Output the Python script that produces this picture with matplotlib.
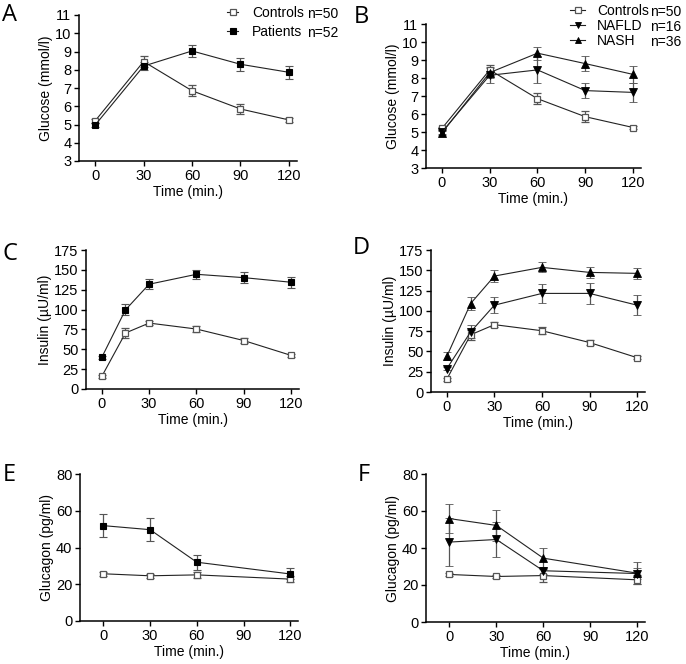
import numpy as np
import matplotlib
matplotlib.use('Agg')
import matplotlib.pyplot as plt
from matplotlib.lines import Line2D

plt.rcParams['font.family'] = ['Liberation Sans', 'DejaVu Sans']

# time points
t_glu = [0, 30, 60, 90, 120]
t_ins = [0, 15, 30, 60, 90, 120]
t_gcg = [0, 30, 60, 120]

# glucose (mmol/l)
glu_ctrl = [5.2, 8.45, 6.85, 5.85, 5.25]
glu_ctrl_err = [0.1, 0.3, 0.3, 0.3, 0.1]
glu_pat = [4.97, 8.2, 9.03, 8.3, 7.86]
glu_pat_err = [0.1, 0.2, 0.35, 0.35, 0.35]
glu_nafld = [5.0, 8.15, 8.45, 7.3, 7.2]
glu_nafld_err = [0.1, 0.4, 0.75, 0.43, 0.55]
glu_nash = [4.95, 8.3, 9.38, 8.8, 8.2]
glu_nash_err = [0.1, 0.3, 0.37, 0.4, 0.45]

# insulin (uU/ml)
ins_ctrl = [15.8, 70.5, 83.0, 75.5, 61.0, 42.3]
ins_ctrl_err = [2, 6, 3, 4, 3, 2]
ins_pat = [39.8, 99.6, 131.9, 144.4, 140.2, 134.4]
ins_pat_err = [2, 7, 6, 6, 7, 7]
ins_nafld = [28.8, 74.1, 107.0, 121.5, 121.5, 107.0]
ins_nafld_err = [2, 8, 10, 11.5, 13, 12]
ins_nash = [44.0, 109.0, 142.9, 153.6, 147.4, 146.2]
ins_nash_err = [5, 8, 7, 6, 7, 7]

# glucagon (pg/ml)
gcg_ctrl = [25.7, 24.6, 25.1, 22.8]
gcg_ctrl_err = [1, 1, 1.5, 1.5]
gcg_ctrl_f_err = [1, 1, 3.5, 2.5]
gcg_pat = [51.9, 49.7, 32.0, 25.6]
gcg_pat_err = [6.2, 6.4, 4, 3]
gcg_nafld = [43.2, 44.6, 27.7, 26.2]
gcg_nafld_err = [13, 9.7, 2, 3]
gcg_nash = [55.9, 52.2, 34.5, 26.4]
gcg_nash_err = [7.7, 8.5, 5.5, 6]

FS = 10
TFS = 10.5
LINE = '#222222'
ERR = '#555555'

styles = {
    'ctrl': dict(marker='s', mfc='white', mec='#555555', ms=5, mew=0.9),
    'pat': dict(marker='s', mfc='black', mec='black', ms=5, mew=0.8),
    'nafld': dict(marker='v', mfc='black', mec='black', ms=5.2, mew=0.6),
    'nash': dict(marker='^', mfc='black', mec='black', ms=5.2, mew=0.6),
}

fig = plt.figure(figsize=(6.86, 6.64), dpi=100)


def add_ax(l, r, b, t):
    return fig.add_axes([l / 686, 1 - b / 664, (r - l) / 686, (b - t) / 664])


def series(ax, x, y, e, kind):
    ax.errorbar(x, y, yerr=e, color=LINE, lw=0.8, ecolor=ERR, elinewidth=0.9,
                capsize=2.8, capthick=0.9, **styles[kind], zorder=3)


def style(ax, ylim, yticks, xlim, ylabel):
    ax.set_xlim(*xlim)
    ax.set_ylim(*ylim)
    ax.set_yticks(yticks)
    ax.set_xticks([0, 30, 60, 90, 120])
    for s in ['top', 'right']:
        ax.spines[s].set_visible(False)
    for s in ['left', 'bottom']:
        ax.spines[s].set_linewidth(1.1)
    ax.tick_params(direction='out', length=3.5, width=1.0, labelsize=TFS, pad=2)
    ax.set_xlabel('Time (min.)', fontsize=FS, labelpad=2)
    ax.set_ylabel(ylabel, fontsize=FS, labelpad=1.5)


def letter(x, y, s):
    fig.text(x / 686, 1 - y / 664, s, fontsize=17, family=['Open Sans', 'DejaVu Sans'],
             va='top', ha='left')


# A
axA = add_ax(79, 297, 161, 15)
series(axA, t_glu, glu_ctrl, glu_ctrl_err, 'ctrl')
series(axA, t_glu, glu_pat, glu_pat_err, 'pat')
style(axA, (3, 11), range(3, 12), (-10, 125), 'Glucose (mmol/l)')

# B
axB = add_ax(426, 641, 168, 24)
series(axB, t_glu, glu_ctrl, glu_ctrl_err, 'ctrl')
series(axB, t_glu, glu_nafld, glu_nafld_err, 'nafld')
series(axB, t_glu, glu_nash, glu_nash_err, 'nash')
style(axB, (3, 11), range(3, 12), (-10, 125), 'Glucose (mmol/l)')

# C
axC = add_ax(86, 299, 389, 250)
series(axC, t_ins, ins_ctrl, ins_ctrl_err, 'ctrl')
series(axC, t_ins, ins_pat, ins_pat_err, 'pat')
style(axC, (0, 175), range(0, 176, 25), (-10, 125), 'Insulin (\u00b5U/ml)')

# D
axD = add_ax(431, 645, 392, 250)
series(axD, t_ins, ins_ctrl, ins_ctrl_err, 'ctrl')
series(axD, t_ins, ins_nafld, ins_nafld_err, 'nafld')
series(axD, t_ins, ins_nash, ins_nash_err, 'nash')
style(axD, (0, 175), range(0, 176, 25), (-10, 125), 'Insulin (\u00b5U/ml)')

# E
axE = add_ax(80, 298, 621, 474)
series(axE, t_gcg, gcg_ctrl, gcg_ctrl_err, 'ctrl')
series(axE, t_gcg, gcg_pat, gcg_pat_err, 'pat')
style(axE, (0, 80), range(0, 81, 20), (-15, 125), 'Glucagon (pg/ml)')

# F
axF = add_ax(426, 645, 622, 474)
series(axF, t_gcg, gcg_ctrl, gcg_ctrl_f_err, 'ctrl')
series(axF, t_gcg, gcg_nafld, gcg_nafld_err, 'nafld')
series(axF, t_gcg, gcg_nash, gcg_nash_err, 'nash')
style(axF, (0, 80), range(0, 81, 20), (-15, 125), 'Glucagon (pg/ml)')

letter(2, 3, 'A')
letter(354, 5, 'B')
letter(3, 242, 'C')
letter(353, 236, 'D')
letter(3, 463, 'E')
letter(358, 463, 'F')


def handle(kind):
    return Line2D([], [], color=LINE, lw=0.8, **styles[kind])


fig.legend([handle('ctrl'), handle('pat')], ['Controls', 'Patients'],
           loc='upper left', bbox_to_anchor=(227 / 686, 1 - 6 / 664),
           frameon=False, fontsize=FS, handlelength=0.8, handletextpad=1.0,
           markerscale=0.8, borderpad=0, borderaxespad=0, labelspacing=0.36)
for i, n in enumerate(['n=50', 'n=52']):
    fig.text(307 / 686, 1 - (14 + 19 * i) / 664, n, fontsize=FS, va='center')

fig.legend([handle('ctrl'), handle('nafld'), handle('nash')], ['Controls', 'NAFLD', 'NASH'],
           loc='upper left', bbox_to_anchor=(570 / 686, 1 - 4 / 664),
           frameon=False, fontsize=FS, handlelength=1.1, handletextpad=0.85,
           markerscale=0.8, borderpad=0, borderaxespad=0, labelspacing=0.07)
for i, n in enumerate(['n=50', 'n=16', 'n=36']):
    fig.text(650 / 686, 1 - (12 + 15 * i) / 664, n, fontsize=FS, va='center')

fig.savefig('out.png', dpi=100)
